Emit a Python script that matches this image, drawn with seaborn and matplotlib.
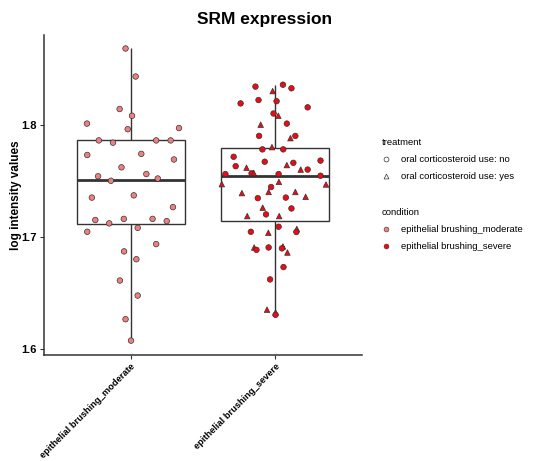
import numpy as np
import pandas as pd
import matplotlib
matplotlib.use("Agg")
import matplotlib.pyplot as plt
from matplotlib.lines import Line2D
import seaborn as sns

categories = ["epithelial brushing_moderate", "epithelial brushing_severe"]

moderate_values = [1.868, 1.843, 1.814, 1.808, 1.801, 1.797, 1.796, 1.786, 1.784, 1.786,
                   1.786, 1.773, 1.774, 1.769, 1.762, 1.756, 1.754, 1.750, 1.752, 1.735,
                   1.737, 1.7265, 1.715, 1.712, 1.716, 1.716, 1.714, 1.7045, 1.708, 1.6935,
                   1.687, 1.680, 1.661, 1.6476, 1.6265, 1.6074]
moderate_jitter = [-0.036, 0.034, -0.077, 0.009, -0.303, 0.334, -0.021, -0.221, -0.123, 0.176,
                   0.276, -0.301, 0.073, 0.299, -0.064, 0.108, -0.226, -0.137, 0.187, -0.269,
                   0.021, 0.292, -0.245, -0.149, -0.048, 0.151, 0.249, -0.301, 0.048, 0.176,
                   -0.046, 0.039, -0.075, 0.048, -0.036, 0.002]
moderate_treatment = ["no"] * len(moderate_values)

severe_values = [1.834, 1.8357, 1.8325, 1.830, 1.819, 1.822, 1.821, 1.8155, 1.810, 1.808,
                 1.801, 1.800, 1.790, 1.790, 1.788, 1.780, 1.778, 1.778, 1.7714, 1.763,
                 1.767, 1.7616, 1.764, 1.766, 1.760, 1.760, 1.768, 1.756, 1.7566, 1.757,
                 1.756, 1.7545, 1.747, 1.7467, 1.749, 1.7444, 1.739, 1.740, 1.740, 1.7357,
                 1.7345, 1.735, 1.726, 1.7253, 1.720, 1.7185, 1.7185, 1.7045, 1.7036, 1.709,
                 1.707, 1.7043, 1.6905, 1.6884, 1.6905, 1.6914, 1.6897, 1.686, 1.673, 1.662,
                 1.635, 1.6325, 1.6304]
severe_jitter = [-0.137, 0.053, 0.112, -0.018, -0.240, -0.116, 0.009, 0.224, -0.012, 0.021,
                 0.080, -0.101, -0.112, 0.139, 0.105, -0.023, -0.089, 0.055, -0.288, -0.274,
                 -0.073, -0.199, 0.080, 0.125, 0.176, 0.224, 0.313, -0.345, -0.164, -0.149,
                 0.023, 0.313, -0.370, 0.351, 0.025, -0.029, -0.231, -0.046, 0.139, 0.210,
                 -0.121, 0.073, -0.087, 0.112, -0.064, -0.194, 0.027, -0.169, -0.048, 0.023,
                 0.149, 0.146, -0.146, -0.130, -0.046, 0.053, 0.046, 0.084, 0.057, -0.036,
                 -0.057, 0.002, 0.002]
severe_treatment = ["no", "no", "no", "yes", "no", "no", "no", "no", "no", "yes",
                    "no", "yes", "no", "no", "yes", "yes", "no", "no", "no", "no",
                    "no", "yes", "yes", "no", "yes", "no", "no", "no", "no", "yes",
                    "no", "no", "yes", "yes", "yes", "no", "yes", "yes", "yes", "yes",
                    "no", "no", "yes", "no", "no", "yes", "yes", "no", "yes", "no",
                    "yes", "no", "yes", "no", "no", "yes", "no", "yes", "no", "no",
                    "yes", "yes", "no"]

treatment_labels = {"no": "oral corticosteroid use: no", "yes": "oral corticosteroid use: yes"}
condition_colors = {categories[0]: "#F08080", categories[1]: "#EE0A14"}

df = pd.DataFrame({
    "condition": [categories[0]] * len(moderate_values) + [categories[1]] * len(severe_values),
    "value": moderate_values + severe_values,
    "jitter": moderate_jitter + severe_jitter,
    "treatment": moderate_treatment + severe_treatment,
})
df["pos"] = df["condition"].map({c: i for i, c in enumerate(categories)}).astype(float)
df["xj"] = df["pos"] + df["jitter"]

plt.rcParams["font.family"] = ["Liberation Sans", "DejaVu Sans"]

fig = plt.figure(figsize=(5.53, 4.61), dpi=100)
ax = fig.add_axes([0.0796, 0.23, 0.575, 0.694])

sns.boxplot(data=df, x="pos", y="value", native_scale=True, width=0.75, whis=np.inf,
            showfliers=False, showcaps=False, color="white", linecolor="#333333", linewidth=1.0,
            medianprops=dict(linewidth=2.0, color="#333333"), saturation=1, ax=ax, zorder=1)

sns.scatterplot(data=df, x="xj", y="value", hue="condition", style="treatment",
                palette=condition_colors, markers={"no": "o", "yes": "^"},
                s=16, edgecolor="#333333", linewidth=0.5, legend=False, ax=ax, zorder=3)

ax.set_xlim(-0.6, 1.6)
ax.set_ylim(1.5946, 1.880)
ax.set_xticks([0, 1])
ax.set_xticklabels(categories, rotation=45, ha="right", rotation_mode="anchor",
                   fontsize=6.7, fontweight="bold")
ax.set_yticks([1.6, 1.7, 1.8])
ax.set_yticklabels(["1.6", "1.7", "1.8"], fontsize=8, fontweight="bold")
ax.set_xlabel("")
ax.set_ylabel("log intensity values", fontsize=8.5, fontweight="bold", labelpad=0)
fig.text(0.479, 0.957, "SRM expression", fontsize=12.5, fontweight="bold",
         ha="center", va="center")
for side in ["top", "right"]:
    ax.spines[side].set_visible(False)
for side in ["left", "bottom"]:
    ax.spines[side].set_color("#333333")
    ax.spines[side].set_linewidth(1.1)
ax.tick_params(axis="both", length=3, width=0.8, color="#333333", pad=2)

leg_kw = dict(loc="upper left", frameon=False, fontsize=6.8, title_fontsize=6.8,
              handletextpad=1.2, labelspacing=0.9, handlelength=0.8,
              alignment="left", borderaxespad=0.3)
h_treat = [Line2D([], [], marker=m, linestyle="", markersize=3.5, markerfacecolor="white",
                  markeredgecolor="#333333", markeredgewidth=0.5)
           for m in ["o", "^"]]
lg1 = fig.legend(h_treat, [treatment_labels["no"], treatment_labels["yes"]], title="treatment",
                 bbox_to_anchor=(0.679, 0.716), **leg_kw)
h_cond = [Line2D([], [], marker="o", linestyle="", markersize=3.5, markerfacecolor=condition_colors[c],
                 markeredgecolor="#333333", markeredgewidth=0.4) for c in categories]
lg2 = fig.legend(h_cond, categories, title="condition",
                 bbox_to_anchor=(0.679, 0.564), **leg_kw)
for lg in (lg1, lg2):
    lg._legend_box.sep = 6

fig.savefig("out.png", dpi=100)
